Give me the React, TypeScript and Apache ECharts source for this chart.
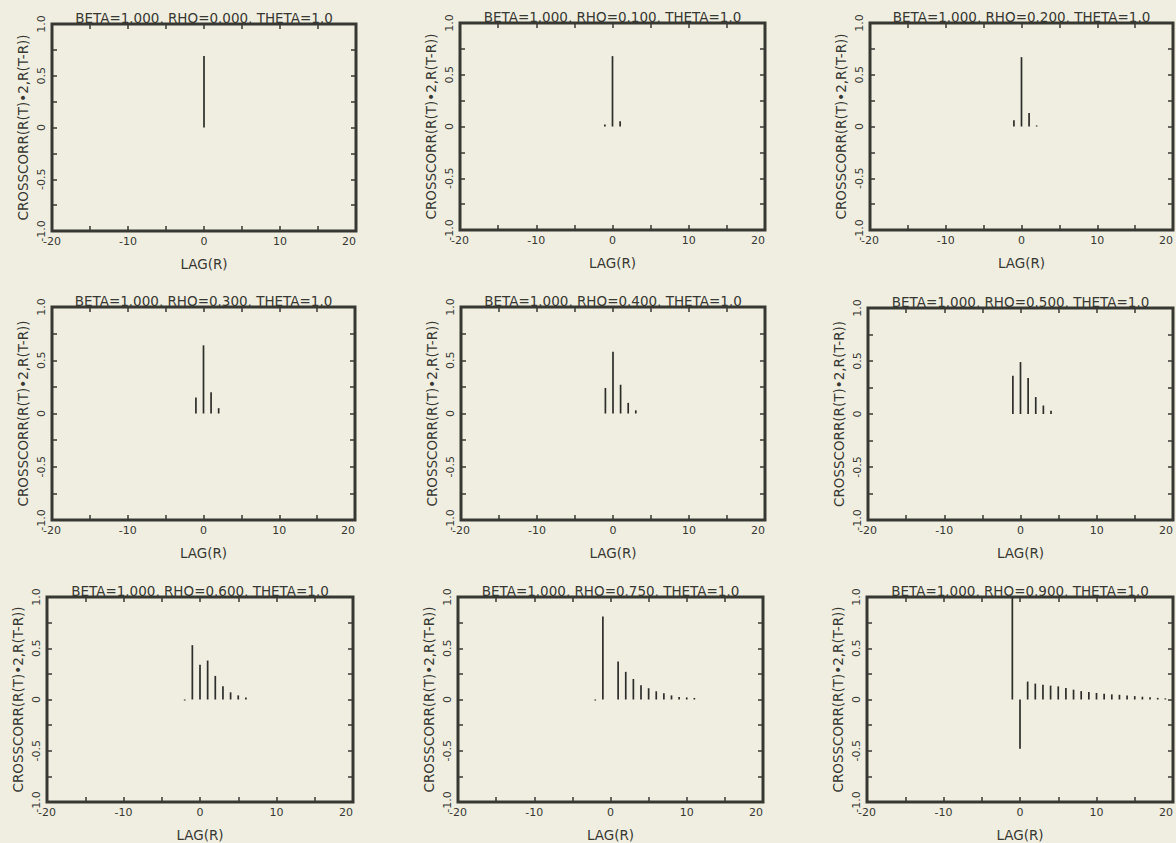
import React, { useEffect, useRef } from "react";
import * as echarts from "echarts";

// ---- data ----
const panelTitles = [
  "BETA=1.000, RHO=0.000, THETA=1.0",
  "BETA=1.000, RHO=0.100, THETA=1.0",
  "BETA=1.000, RHO=0.200, THETA=1.0",
  "BETA=1.000, RHO=0.300, THETA=1.0",
  "BETA=1.000, RHO=0.400, THETA=1.0",
  "BETA=1.000, RHO=0.500, THETA=1.0",
  "BETA=1.000, RHO=0.600, THETA=1.0",
  "BETA=1.000, RHO=0.750, THETA=1.0",
  "BETA=1.000, RHO=0.900, THETA=1.0",
];

const xAxisName = "LAG(R)";
const yAxisName = "CROSSCORR(R(T)•2,R(T-R))";

const xTickValues = [-20, -10, 0, 10, 20];
const xTickLabels = ["-20", "-10", "0", "10", "20"];
const yTickValues = [-1, -0.5, 0, 0.5, 1];
const yTickLabels = ["-1.0", "-0.5", "0", "0.5", "1.0"];

const lagsRho000 = [0];
const corrRho000 = [0.69];

const lagsRho100 = [-1, 0, 1];
const corrRho100 = [0.02, 0.68, 0.05];

const lagsRho200 = [-1, 0, 1, 2];
const corrRho200 = [0.06, 0.67, 0.13, 0.01];

const lagsRho300 = [-1, 0, 1, 2];
const corrRho300 = [0.15, 0.64, 0.2, 0.05];

const lagsRho400 = [-1, 0, 1, 2, 3];
const corrRho400 = [0.24, 0.58, 0.27, 0.1, 0.03];

const lagsRho500 = [-1, 0, 1, 2, 3, 4];
const corrRho500 = [0.36, 0.49, 0.34, 0.16, 0.08, 0.03];

const lagsRho600 = [-2, -1, 0, 1, 2, 3, 4, 5, 6];
const corrRho600 = [-0.01, 0.53, 0.34, 0.38, 0.23, 0.13, 0.07, 0.04, 0.02];

const lagsRho750 = [-2, -1, 1, 2, 3, 4, 5, 6, 7, 8, 9, 10, 11];
const corrRho750 = [-0.01, 0.81, 0.37, 0.27, 0.2, 0.14, 0.11, 0.08, 0.06, 0.04, 0.025, 0.02, 0.015];

const lagsRho900 = [-1, 0, 1, 2, 3, 4, 5, 6, 7, 8, 9, 10, 11, 12, 13, 14, 15, 16, 17, 18, 19];
const corrRho900 = [
  0.99, -0.48, 0.175, 0.155, 0.145, 0.135, 0.128, 0.112, 0.096, 0.082, 0.072, 0.064, 0.056, 0.05,
  0.046, 0.04, 0.033, 0.027, 0.022, 0.016, 0.011,
];

const panelLags = [lagsRho000, lagsRho100, lagsRho200, lagsRho300, lagsRho400, lagsRho500, lagsRho600, lagsRho750, lagsRho900];
const panelCorr = [corrRho000, corrRho100, corrRho200, corrRho300, corrRho400, corrRho500, corrRho600, corrRho750, corrRho900];

// ---- layout (pixel plot rectangles: left, top, width, height) ----
const panelRects = [
  [52, 24, 304, 207],
  [460, 23, 305, 207],
  [870, 23, 305, 207],
  [52, 307, 303, 213],
  [461, 307, 304, 213],
  [868, 308, 307, 212],
  [47, 597, 306, 209],
  [458, 597, 305, 209],
  [867, 597, 306, 208],
];

const INK = "#383833";
const STEM = "#2d2d29";
const PAPER = "#efeee0";
const FONT = "DejaVu Sans";

function xLabel(v: number): string {
  const i = xTickValues.indexOf(v);
  return i >= 0 ? xTickLabels[i] : "";
}
function yLabel(v: number): string {
  const i = yTickValues.findIndex((t) => Math.abs(t - v) < 1e-9);
  return i >= 0 ? yTickLabels[i] : "";
}

function buildOption() {
  const grid: any[] = [];
  const xAxis: any[] = [];
  const yAxis: any[] = [];
  const series: any[] = [];
  const tick = { show: true, inside: true, length: 5, lineStyle: { color: INK, width: 1.5 } };
  const noLine = { show: false, onZero: false };

  panelRects.forEach((r, i) => {
    grid.push({
      left: r[0],
      top: r[1],
      width: r[2],
      height: r[3],
      show: true,
      borderColor: INK,
      borderWidth: 3,
      backgroundColor: "transparent",
      containLabel: false,
    });
    xAxis.push({
      type: "value",
      gridIndex: i,
      position: "bottom",
      min: -20,
      max: 20,
      interval: 5,
      axisLine: noLine,
      axisTick: tick,
      splitLine: { show: false },
      axisLabel: {
        show: true,
        formatter: (v: number) => xLabel(v),
        color: INK,
        fontFamily: FONT,
        fontSize: 11,
        margin: 5,
        alignMaxLabel: "right",
      },
      name: xAxisName,
      nameLocation: "middle",
      nameGap: 26,
      nameTextStyle: { color: INK, fontFamily: FONT, fontSize: 13.5 },
    });
    xAxis.push({
      type: "value",
      gridIndex: i,
      position: "top",
      min: -20,
      max: 20,
      interval: 5,
      axisLine: noLine,
      axisTick: tick,
      splitLine: { show: false },
      axisLabel: { show: false },
      name: panelTitles[i],
      nameLocation: "middle",
      nameGap: -1,
      nameTextStyle: { color: INK, fontFamily: FONT, fontSize: 13.5 },
    });
    yAxis.push({
      type: "value",
      gridIndex: i,
      position: "left",
      min: -1,
      max: 1,
      interval: 0.25,
      axisLine: noLine,
      axisTick: tick,
      splitLine: { show: false },
      axisLabel: {
        show: true,
        rotate: 90,
        formatter: (v: number) => yLabel(v),
        color: INK,
        fontFamily: FONT,
        fontSize: 11,
        margin: 5,
      },
      name: yAxisName,
      nameLocation: "middle",
      nameGap: 22,
      nameTextStyle: { color: INK, fontFamily: FONT, fontSize: 13.5 },
    });
    yAxis.push({
      type: "value",
      gridIndex: i,
      position: "right",
      min: -1,
      max: 1,
      interval: 0.25,
      axisLine: noLine,
      axisTick: tick,
      splitLine: { show: false },
      axisLabel: { show: false },
    });
    series.push({
      type: "bar",
      xAxisIndex: 2 * i,
      yAxisIndex: 2 * i,
      barWidth: 1.7,
      itemStyle: { color: STEM },
      data: panelLags[i].map((lag, k) => [lag, panelCorr[i][k]]),
      silent: true,
    });
  });

  return {
    animation: false,
    backgroundColor: PAPER,
    textStyle: { fontFamily: FONT },
    grid,
    xAxis,
    yAxis,
    series,
  };
}

export default function App() {
  const ref = useRef<HTMLDivElement>(null);
  useEffect(() => {
    document.body.style.margin = "0";
    document.body.style.background = PAPER;
    if (!ref.current) return;
    const chart = echarts.init(ref.current, undefined, { renderer: "svg" });
    chart.setOption(buildOption() as any);
    return () => chart.dispose();
  }, []);
  return <div ref={ref} style={{ width: 1176, height: 843 }} />;
}
